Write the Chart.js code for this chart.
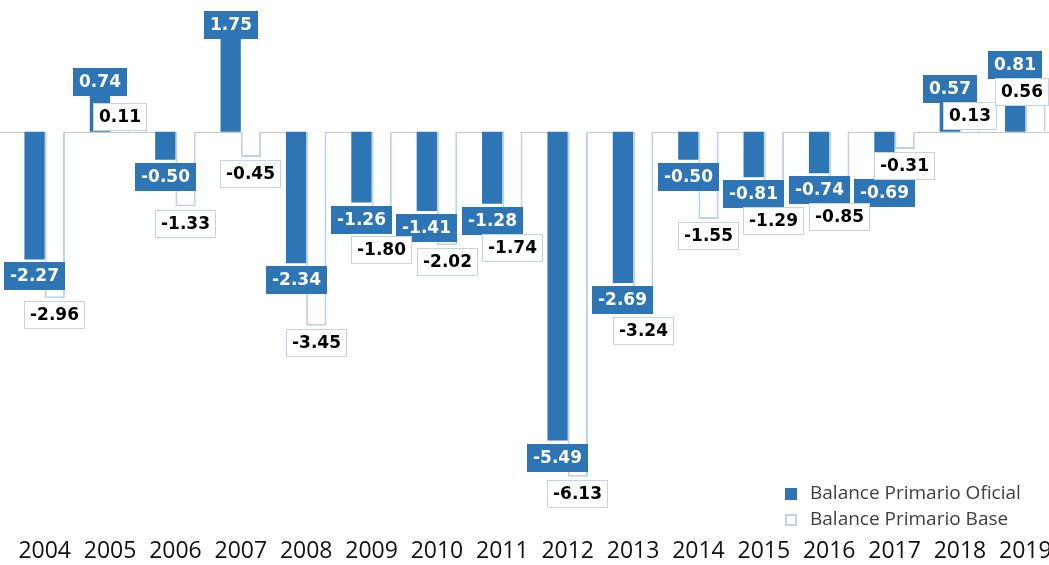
<!DOCTYPE html>
<html>
<head>
<meta charset="utf-8">
<script src="https://cdn.jsdelivr.net/npm/chart.js@4/dist/chart.umd.min.js"></script>
<style>
  html, body { margin: 0; padding: 0; background: #fff; overflow: hidden; }
  #chart { display: block; }
</style>
</head>
<body>
<canvas id="chart" width="1064" height="565"></canvas>
<script>
const years = ['2004','2005','2006','2007','2008','2009','2010','2011','2012','2013','2014','2015','2016','2017','2018','2019'];
const oficial = [-2.27, 0.74, -0.50, 1.75, -2.34, -1.26, -1.41, -1.28, -5.49, -2.69, -0.50, -0.81, -0.74, -0.69, 0.57, 0.81];
const base = [-2.96, 0.11, -1.33, -0.45, -3.45, -1.80, -2.02, -1.74, -6.13, -3.24, -1.55, -1.29, -0.85, -0.31, 0.13, 0.56];

const BLUE = '#2e75b6';
const LIGHT = '#bdd3ec';
const VIEW_W = 1049; // visible window width, labels are kept inside it

// grey line at zero, across the full width
const zeroLine = {
  id: 'zeroLine',
  beforeDatasetsDraw(chart) {
    const ctx = chart.ctx;
    const y = Math.round(chart.scales.y.getPixelForValue(0)) + 0.5;
    ctx.save();
    ctx.strokeStyle = '#c9c9c9';
    ctx.lineWidth = 1;
    ctx.beginPath();
    ctx.moveTo(0, y);
    ctx.lineTo(chart.width, y);
    ctx.stroke();
    ctx.restore();
  }
};

// boxed value labels, like the spreadsheet data callouts
const valueBoxes = {
  id: 'valueBoxes',
  afterDatasetsDraw(chart) {
    const ctx = chart.ctx;
    const h = 28;
    ctx.save();
    ctx.font = 'bold 17px "DejaVu Sans"';
    ctx.textAlign = 'center';
    ctx.textBaseline = 'middle';
    const m0 = chart.getDatasetMeta(0).data;
    const m1 = chart.getDatasetMeta(1).data;
    const boxes = [[], []];
    years.forEach((yr, i) => {
      const vals = [oficial[i], base[i]];
      const bars = [m0[i], m1[i]];
      const c = vals.map((v, k) => v < 0 ? bars[k].y + 17 : bars[k].y - 8);
      // push the bigger one away if the two boxes collide
      if (Math.abs(c[0] - c[1]) < h - 1) {
        const far = Math.abs(vals[0]) > Math.abs(vals[1]) ? 0 : 1;
        const near = 1 - far;
        const dir = vals[far] < 0 ? 1 : -1;
        c[far] = c[near] + dir * (h - 1);
      }
      for (let k = 0; k < 2; k++) {
        boxes[k].push({ x: bars[k].x, y: c[k], text: vals[k].toFixed(2) });
      }
    });
    boxes.forEach((list, k) => {
      list.forEach(b => {
        const w = Math.round(ctx.measureText(b.text).width + 12);
        const x0 = Math.min(Math.round(b.x - w / 2), VIEW_W - w);
        const y0 = Math.round(b.y - h / 2);
        if (k === 0) {
          ctx.fillStyle = BLUE;
          ctx.fillRect(x0, y0, w, h);
          ctx.fillStyle = '#fff';
        } else {
          ctx.fillStyle = '#fff';
          ctx.fillRect(x0, y0, w, h);
          ctx.strokeStyle = '#c5d3e3';
          ctx.lineWidth = 1;
          ctx.strokeRect(x0 + 0.5, y0 + 0.5, w - 1, h - 1);
          ctx.fillStyle = '#000';
        }
        ctx.fillText(b.text, x0 + w / 2, y0 + h / 2 + 1);
      });
    });
    ctx.restore();
  }
};

// legend in the lower right corner of the plot
const cornerLegend = {
  id: 'cornerLegend',
  afterDraw(chart) {
    const ctx = chart.ctx;
    ctx.save();
    ctx.font = '19px "Open Sans"';
    ctx.textBaseline = 'middle';
    chart.data.datasets.forEach((ds, i) => {
      const y = 494 + i * 26;
      if (i === 0) {
        ctx.fillStyle = BLUE;
        ctx.fillRect(785, y - 6, 12, 12);
      } else {
        ctx.strokeStyle = LIGHT;
        ctx.lineWidth = 2;
        ctx.strokeRect(786, y - 5, 10, 10);
      }
      ctx.fillStyle = '#404040';
      ctx.fillText(ds.label, 810, y);
    });
    ctx.restore();
  }
};

new Chart(document.getElementById('chart'), {
  type: 'bar',
  data: {
    labels: years,
    datasets: [
      { label: 'Balance Primario Oficial', data: oficial, backgroundColor: BLUE, borderWidth: 0 },
      { label: 'Balance Primario Base', data: base, backgroundColor: '#fff', borderColor: LIGHT, borderWidth: 2 }
    ]
  },
  options: {
    responsive: false,
    animation: false,
    devicePixelRatio: 1,
    layout: { padding: { left: 12, right: 6, top: 0, bottom: 0 } },
    datasets: { bar: { categoryPercentage: 0.62, barPercentage: 1.0 } },
    plugins: { legend: { display: false }, tooltip: { enabled: false } },
    scales: {
      x: {
        grid: { display: false, drawTicks: false },
        border: { display: false },
        ticks: { color: '#111', font: { family: 'Open Sans', size: 23 }, padding: 0, maxRotation: 0, autoSkip: false }
      },
      y: { display: false, min: -7.21, max: 2.34 }
    }
  },
  plugins: [zeroLine, valueBoxes, cornerLegend]
});
</script>
</body>
</html>
